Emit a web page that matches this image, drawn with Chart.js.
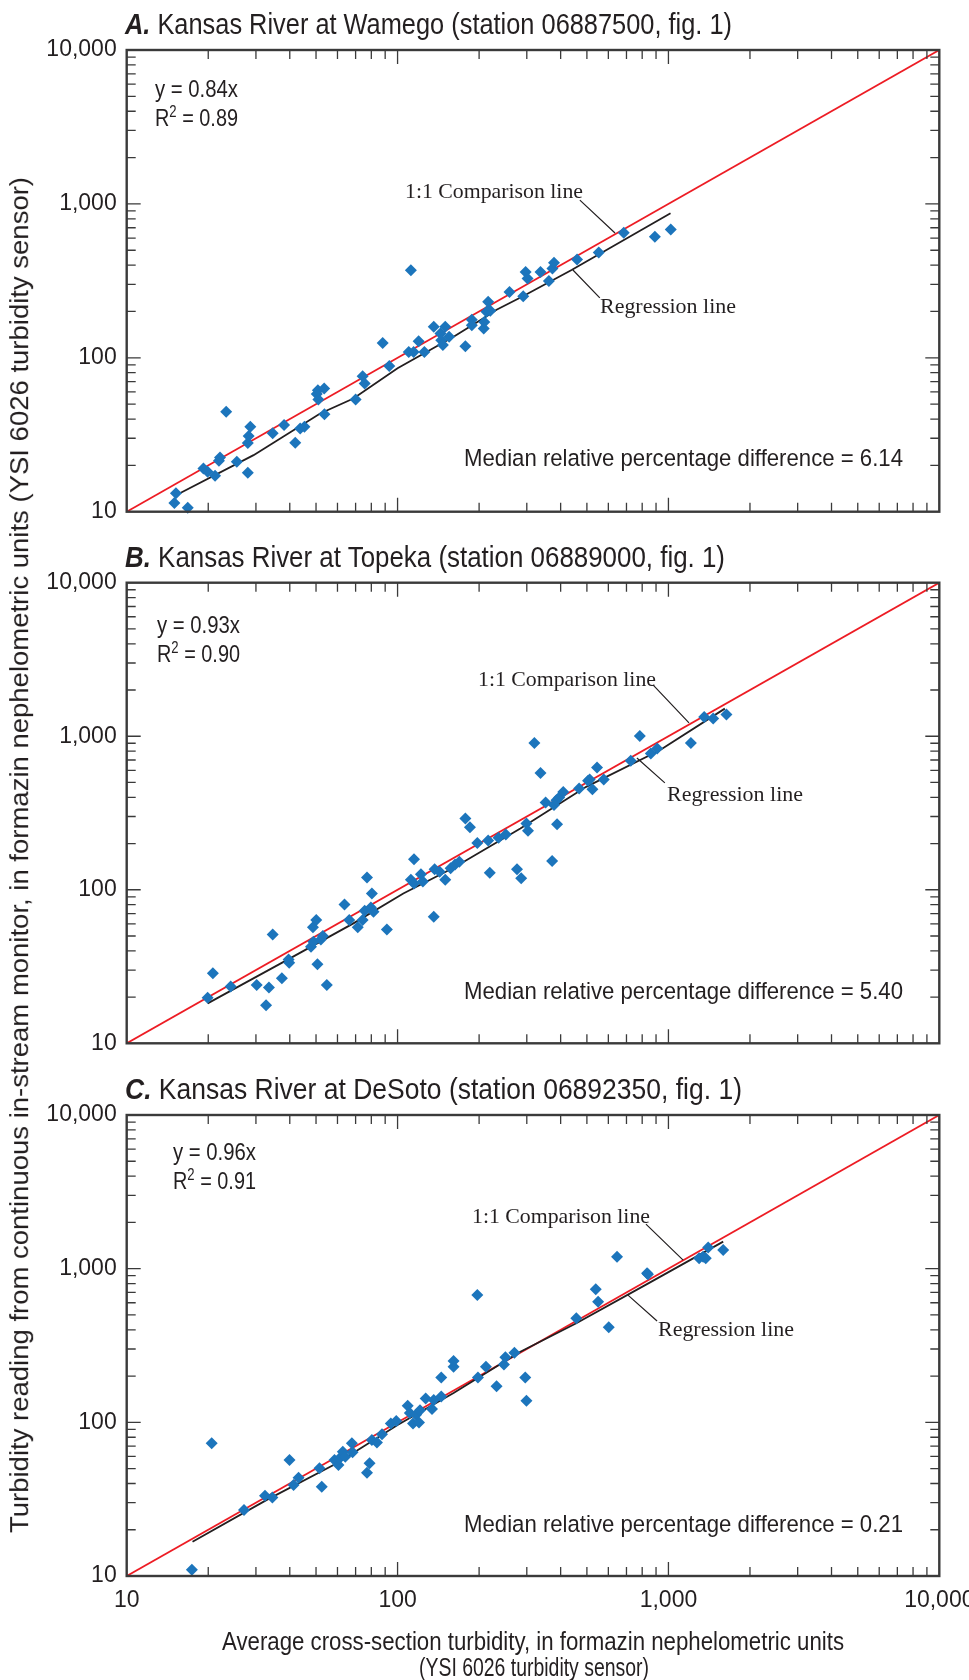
<!DOCTYPE html>
<html>
<head>
<meta charset="utf-8">
<script src="https://cdn.jsdelivr.net/npm/chart.js@4.4.0/dist/chart.umd.min.js"></script>
<style>
  html, body { margin: 0; padding: 0; background: #fff; }
  #wrap { position: relative; width: 969px; height: 1680px; overflow: hidden; background: #fff; }
  canvas { position: absolute; left: 0; }
  .txt { position: absolute; white-space: nowrap; line-height: 1; color: #231f20; transform-origin: left top; }
  .sup { font-size: 0.66em; position: relative; top: -0.55em; }
</style>
</head>
<body>
<div id="wrap">
  <canvas id="chartA" width="969" height="545" style="top:0px;width:969px;height:545px"></canvas>
  <canvas id="chartB" width="969" height="530" style="top:545px;width:969px;height:530px"></canvas>
  <canvas id="chartC" width="969" height="605" style="top:1075px;width:969px;height:605px"></canvas>
</div>
<script>
"use strict";

// axis decades and their labels
var decades = [10, 100, 1000, 10000];
var tickLabels = ["10", "100", "1,000", "10,000"];

// 1:1 comparison line
var oneToOneX = [10, 10000];
var oneToOneY = [10, 10000];

// A. Wamego
var wamegoX = [15.0, 15.2, 16.8, 19.2, 19.9, 21.2, 21.9, 22.1, 23.3, 25.5, 28.0, 28.0, 28.2, 28.6, 34.6, 38.1, 41.9, 43.7, 45.3, 50.3,
  51.0, 50.8, 53.6, 53.7, 70.0, 74.3, 75.6, 88.1, 93.2, 110, 112, 114.6, 119.6, 125.6, 136, 144, 145, 147, 150, 155,
  178, 188, 188, 208, 209, 213, 216, 220, 259, 291, 297, 302, 337, 362, 373, 378, 460, 553, 684, 891, 1020];
var wamegoY = [11.4, 13.2, 10.6, 19.1, 18.2, 17.1, 21.4, 22.5, 44.6, 21.1, 17.9, 28.0, 31.0, 35.6, 32.3, 36.6, 28.1, 34.7, 35.6, 58.1,
  53.6, 61.6, 63.2, 43.0, 53.6, 76.0, 68.1, 125, 88.3, 109, 371, 109, 128, 109, 159, 144, 130, 121, 159, 137,
  119, 177, 163, 155, 171, 199, 231, 202, 268, 251, 361, 327, 361, 316, 380, 414, 435, 483, 649, 611, 681];
var wamegoLineX = [15.2, 29.4, 51.8, 68.7, 100, 161, 214, 232, 288, 439, 1018];
var wamegoLineY = [12.8, 23.3, 43.5, 54.4, 85.5, 137, 187, 205, 249, 372, 869];

// B. Topeka
var topekaX = [19.9, 20.8, 24.2, 30.2, 32.7, 33.5, 34.6, 37.4, 39.6, 39.8, 47.9, 48.7, 48.9, 50.1, 50.6, 52.1, 53.0, 54.8, 63.7, 66.3,
  71.3, 74.3, 75.6, 77.1, 79.7, 80.4, 81.5, 91.3, 112, 115, 115, 122, 124, 136, 137, 143, 150, 157, 163, 169,
  178, 185, 197, 216, 219, 236, 251, 276, 286, 299, 303, 320, 337, 352, 372, 378, 386, 388, 395, 409,
  468, 505, 512, 524, 545, 577, 726, 784, 861, 909, 1210, 1355, 1463, 1637];
var topekaY = [19.8, 28.6, 23.4, 24.0, 17.7, 23.1, 51.2, 26.5, 35.2, 33.5, 42.6, 56.9, 45.9, 63.5, 32.7, 47.5, 49.9, 24.0, 80.3, 63.5,
  56.9, 63.5, 73.0, 120, 76.7, 94.6, 71.9, 55.2, 116, 158, 110, 126, 113, 66.7, 136, 131, 116, 138, 146, 152,
  291, 255, 202, 209, 129, 218, 229, 136, 119, 270, 242, 905, 577, 370, 154, 356, 383, 267, 399, 434,
  456, 512, 522, 452, 625, 522, 692, 1005, 771, 832, 905, 1336, 1303, 1384];
var topekaLineX = [19.9, 39.0, 68.7, 105, 161, 284, 497, 929, 1615];
var topekaLineY = [18.2, 34.8, 60.4, 94.6, 139, 251, 468, 811, 1513];

// C. DeSoto
var desotoX = [17.4, 20.6, 27.1, 32.4, 34.5, 39.9, 41.3, 43.1, 51.5, 52.5, 58.5, 60.5, 61.1, 62.8, 64.1, 67.8, 68.2, 77.1, 78.8, 80.4,
  83.9, 87.6, 94.4, 98.9, 109, 111, 114, 117, 120, 121, 127, 134, 136, 145, 145, 161, 161, 197, 198, 212,
  232, 247, 250, 270, 296, 299, 457, 539, 550, 602, 646, 834, 840, 1298, 1343, 1373, 1402, 1593];
var desotoY = [11.0, 73.0, 26.9, 33.3, 32.4, 56.9, 39.1, 43.6, 50.2, 38.1, 56.9, 52.7, 58.3, 64.4, 59.8, 73.0, 63.8, 47.0, 54.1, 76.7,
  73.8, 83.6, 98.4, 102, 128, 115, 98.4, 112, 99.6, 120, 143, 122, 140, 196, 147, 230, 251, 675, 196, 230,
  172, 238, 265, 284, 196, 138, 475, 734, 610, 415, 1197, 933, 920, 1167, 1197, 1167, 1371, 1322];
var desotoLineX = [17.5, 32.9, 59.7, 100, 161, 284, 457, 830, 1593];
var desotoLineY = [16.7, 31.3, 54.1, 96.1, 155, 288, 441, 790, 1500];

// text
var titles = ["Kansas River at Wamego (station 06887500, fig. 1)",
  "Kansas River at Topeka (station 06889000, fig. 1)",
  "Kansas River at DeSoto (station 06892350, fig. 1)"];
var letters = ["A.", "B.", "C."];
var slopes = ["0.84", "0.93", "0.96"];
var rSquared = ["0.89", "0.90", "0.91"];
var medians = ["6.14", "5.40", "0.21"];

var blue = "#1c75bc";
var red = "#ed1c24";
var ink = "#231f20";
var frame = "#3a3a3a";

//----------- fonts available here
function hasFont(name) {
  var c = document.createElement("canvas").getContext("2d");
  c.font = "40px monospace";
  var w1 = c.measureText("10,000 Kansas River").width;
  c.font = "40px '" + name + "', monospace";
  var w2 = c.measureText("10,000 Kansas River").width;
  return Math.abs(w1 - w2) > 0.5;
}
var narrow = hasFont("Liberation Sans Narrow");
var sansFamily = narrow ? "'Liberation Sans Narrow', 'Liberation Sans', sans-serif" : "'Liberation Sans', Arial, sans-serif";
var serifFamily = "'Liberation Serif', 'Times New Roman', serif";
var tickSize = narrow ? 25 : 23;

function toPoints(xs, ys) {
  var out = [];
  for (var i = 0; i < xs.length; i++) out.push({ x: xs[i], y: ys[i] });
  return out;
}

//----------- frame, inward ticks and leader lines
var frameTicks = {
  id: "frameTicks",
  afterDatasetsDraw: function (chart, args, opts) {
    var ctx = chart.ctx;
    var a = chart.chartArea;
    var xs = chart.scales.x;
    var ys = chart.scales.y;
    ctx.save();
    ctx.strokeStyle = frame;
    ctx.lineWidth = 1.3;
    ctx.beginPath();
    for (var d = 0; d < decades.length - 1; d++) {
      for (var m = 1; m < 10; m++) {
        var v = decades[d] * m;
        if (v <= 10) continue;
        var len = m === 1 ? 14 : 9;
        var px = xs.getPixelForValue(v);
        var py = ys.getPixelForValue(v);
        ctx.moveTo(px, a.bottom); ctx.lineTo(px, a.bottom - len);
        ctx.moveTo(px, a.top); ctx.lineTo(px, a.top + len);
        ctx.moveTo(a.left, py); ctx.lineTo(a.left + len, py);
        ctx.moveTo(a.right, py); ctx.lineTo(a.right - len, py);
      }
    }
    ctx.stroke();
    ctx.lineWidth = 2.4;
    ctx.strokeRect(a.left, a.top, a.right - a.left, a.bottom - a.top);

    ctx.strokeStyle = ink;
    ctx.lineWidth = 1.2;
    ctx.beginPath();
    (opts.leaders || []).forEach(function (l) {
      ctx.moveTo(xs.getPixelForValue(l[0]), ys.getPixelForValue(l[1]));
      ctx.lineTo(xs.getPixelForValue(l[2]), ys.getPixelForValue(l[3]));
    });
    ctx.stroke();
    ctx.restore();
  }
};

function decadeTicks(scale) {
  scale.ticks = decades.map(function (v) { return { value: v }; });
}
function labelFor(value) {
  var i = decades.indexOf(value);
  return i >= 0 ? tickLabels[i] : "";
}

function makePanel(id, padTop, xHeight, showX, pts, line, leaders) {
  return new Chart(document.getElementById(id), {
    type: "scatter",
    data: {
      datasets: [
        { data: pts, backgroundColor: blue, borderWidth: 0, pointStyle: "rectRot", pointRadius: 6, order: 0, clip: false },
        { data: line, showLine: true, borderColor: ink, borderWidth: 1.8, pointRadius: 0, order: 1 },
        { data: toPoints(oneToOneX, oneToOneY), showLine: true, borderColor: red, borderWidth: 1.8, pointRadius: 0, order: 2 }
      ]
    },
    options: {
      responsive: false,
      animation: false,
      devicePixelRatio: 1,
      layout: { padding: { top: padTop, right: 29.7, bottom: 0, left: 0 } },
      plugins: {
        legend: { display: false },
        tooltip: { enabled: false },
        frameTicks: { leaders: leaders }
      },
      scales: {
        x: {
          type: "logarithmic", min: 10, max: 10000,
          grid: { display: false, drawTicks: false },
          border: { display: false },
          afterBuildTicks: decadeTicks,
          ticks: { display: showX, callback: labelFor, autoSkip: false, maxRotation: 0, padding: 11,
            color: ink, font: { family: sansFamily, size: tickSize } },
          afterFit: function (s) { s.height = xHeight; s.paddingLeft = 0; s.paddingRight = 0; }
        },
        y: {
          type: "logarithmic", min: 10, max: 10000,
          grid: { display: false, drawTicks: false },
          border: { display: false },
          afterBuildTicks: decadeTicks,
          ticks: { callback: labelFor, autoSkip: false, padding: 10,
            color: ink, font: { family: sansFamily, size: tickSize } },
          afterFit: function (s) { s.width = 126.7; s.paddingTop = 0; s.paddingBottom = 0; }
        }
      }
    },
    plugins: [frameTicks]
  });
}

makePanel("chartA", 50, 33.3, false, toPoints(wamegoX, wamegoY), toPoints(wamegoLineX, wamegoLineY),
  [[471, 1059, 635, 647], [444, 372, 558, 245]]);
makePanel("chartB", 37.7, 31.7, false, toPoints(topekaX, topekaY), toPoints(topekaLineX, topekaLineY),
  [[877, 2158, 1191, 1222], [765, 722, 970, 497]]);
makePanel("chartC", 40, 104, true, toPoints(desotoX, desotoY), toPoints(desotoLineX, desotoLineY),
  [[826, 1950, 1133, 1137], [709, 673, 908, 456]]);

//----------- html text, squeezed to the widths in the figure
var wrap = document.getElementById("wrap");
function addText(html, x, baseline, size, width, serif, center) {
  var el = document.createElement("div");
  el.className = "txt";
  el.innerHTML = html;
  el.style.fontSize = size + "px";
  el.style.fontFamily = serif ? serifFamily : sansFamily;
  wrap.appendChild(el);
  var w = el.getBoundingClientRect().width;
  var sx = width ? width / w : 1;
  el.style.left = (center ? x - width / 2 : x) + "px";
  el.style.top = (baseline - 0.85 * size) + "px";
  el.style.transform = "scaleX(" + sx + ")";
  return el;
}

var titleBase = [35, 568, 1100];
var titleWidth = [607, 600, 617];
var eqLeft = [155, 157, 173];
var eqBase = [97, 633, 1160];
var medBase = [467, 1000, 1533];
var oneLabel = [[405, 199], [478, 687], [472, 1224]];
var regLabel = [[600, 314], [667, 802], [658, 1337]];

for (var p = 0; p < 3; p++) {
  addText("<span style=\"font-weight:bold;font-style:italic\">" + letters[p] + "</span> " + titles[p],
    125, titleBase[p], 29, titleWidth[p]);
  addText("y = " + slopes[p] + "x", eqLeft[p], eqBase[p], 24, 83);
  addText("R<span class=\"sup\">2</span> = " + rSquared[p], eqLeft[p], eqBase[p] + 29, 24, 83);
  addText("Median relative percentage difference = " + medians[p], 464, medBase[p], 24.5, 439);
  addText("1:1 Comparison line", oneLabel[p][0], oneLabel[p][1], 21, 178, true);
  addText("Regression line", regLabel[p][0], regLabel[p][1], 21, 136, true);
}

addText("Average cross-section turbidity, in formazin nephelometric units", 533, 1650, 25, 622, false, true);
addText("(YSI 6026 turbidity sensor)", 534, 1676, 25, 230, false, true);

// vertical axis title
var yt = document.createElement("div");
yt.className = "txt";
yt.textContent = "Turbidity reading from continuous in-stream monitor, in formazin nephelometric units (YSI 6026 turbidity sensor)";
yt.style.fontSize = "26px";
yt.style.fontFamily = sansFamily;
wrap.appendChild(yt);
var ytw = yt.getBoundingClientRect().width;
yt.style.left = (19.5 - ytw / 2) + "px";
yt.style.top = (855 - 13) + "px";
yt.style.transformOrigin = "center center";
yt.style.transform = "rotate(-90deg) scaleX(" + (1356 / ytw) + ")";
</script>
</body>
</html>
